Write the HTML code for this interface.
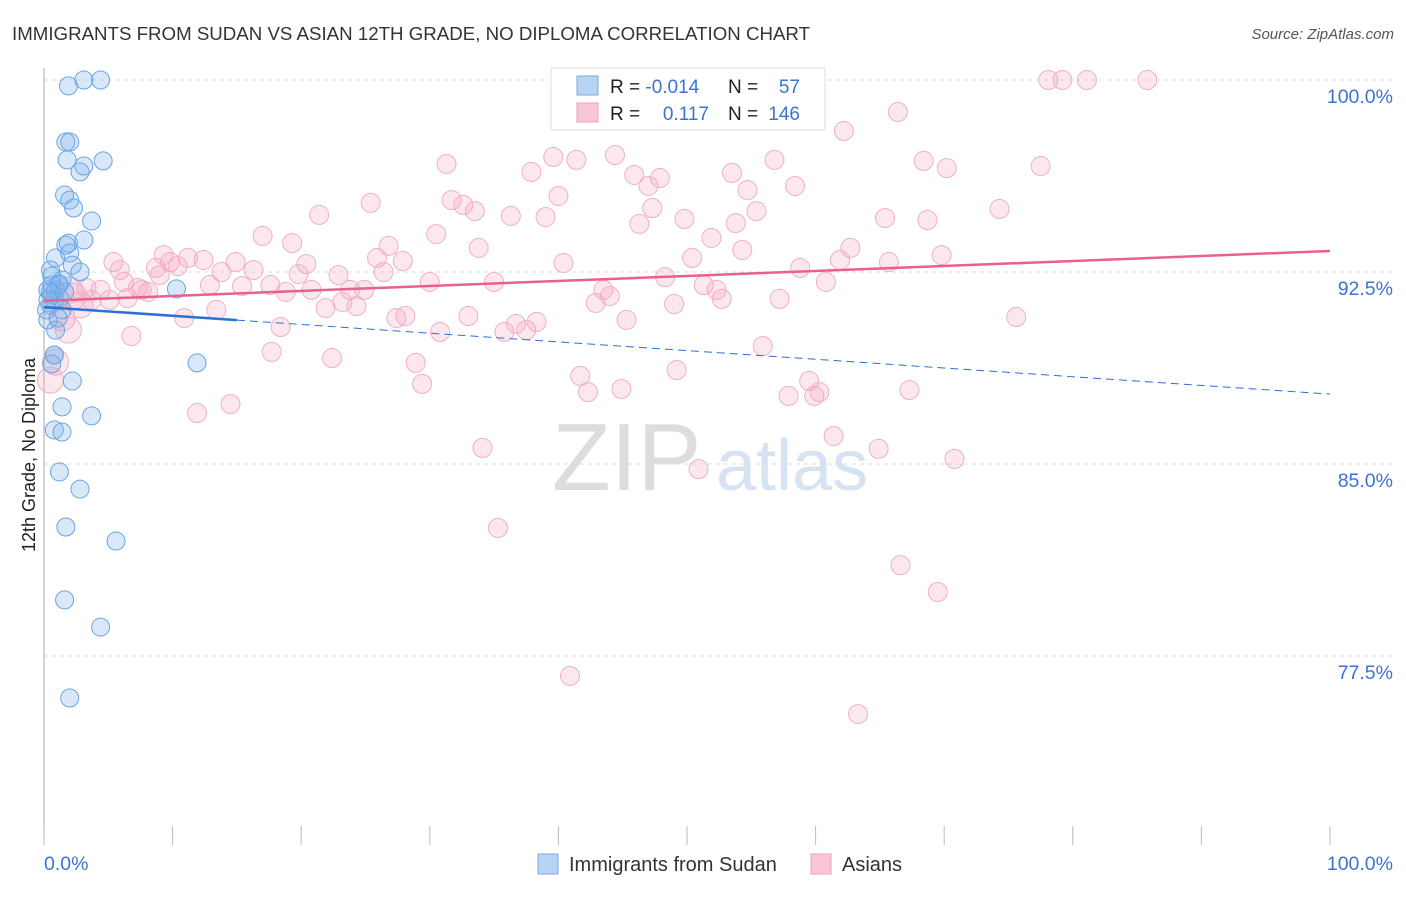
<!DOCTYPE html>
<html><head><meta charset="utf-8"><style>
body{margin:0;background:#fff;font-family:"Liberation Sans",sans-serif}
svg text{font-family:"Liberation Sans",sans-serif}
</style></head><body>
<svg width="1406" height="892" viewBox="0 0 1406 892">
<text x="12" y="40" font-size="18.5" fill="#333" textLength="798" lengthAdjust="spacingAndGlyphs">IMMIGRANTS FROM SUDAN VS ASIAN 12TH GRADE, NO DIPLOMA CORRELATION CHART</text>
<text x="1394" y="39" font-size="15" fill="#555" text-anchor="end" font-style="italic">Source: ZipAtlas.com</text>
<g>
<text x="552" y="490" font-size="96" fill="#ddd" font-family="Liberation Serif">ZIP</text>
<text x="716" y="490" font-size="72" fill="#d5e3f3">atlas</text>
</g>
<g id="grid"></g>
<g id="axes"></g>
<g id="pts"></g>
<g id="trends"></g>
<text transform="translate(35,455) rotate(-90)" font-size="18" fill="#222" text-anchor="middle">12th Grade, No Diploma</text>
<g>
<rect x="551" y="68" width="274" height="62" fill="#fff" stroke="#ddd"/>
<rect x="577" y="76" width="21" height="19" fill="#b8d4f4" stroke="#7aaae6"/>
<rect x="577" y="103" width="21" height="19" fill="#f9c6d6" stroke="#eca0ba"/>
<text x="610" y="93" font-size="19" fill="#222">R = <tspan fill="#3a74d0">-0.014</tspan></text>
<text x="728" y="93" font-size="19" fill="#222">N = </text><text x="800" y="93" font-size="19" fill="#3a74d0" text-anchor="end">57</text>
<text x="610" y="120" font-size="19" fill="#222">R = </text><text x="709" y="120" font-size="19" fill="#3a74d0" text-anchor="end">0.117</text>
<text x="728" y="120" font-size="19" fill="#222">N = </text><text x="800" y="120" font-size="19" fill="#3a74d0" text-anchor="end">146</text>
</g>
<g>
<rect x="538" y="854" width="20" height="20" fill="#b8d4f4" stroke="#7aaae6"/>
<text x="569" y="871" font-size="20" fill="#333">Immigrants from Sudan</text>
<rect x="811" y="854" width="20" height="20" fill="#f9c6d6" stroke="#eca0ba"/>
<text x="842" y="871" font-size="20" fill="#333">Asians</text>
</g>
</svg>
<script>
const yTicks=[100,92.5,85,77.5];
const yTickLabels=["100.0%","92.5%","85.0%","77.5%"];
const xTickLabels=["0.0%","100.0%"];
const sudanX=[1.9,3.1,4.4,1.7,2.0,1.8,2.8,3.1,4.6,1.6,2.0,2.3,3.7,1.7,1.9,3.1,0.9,2.0,2.2,2.8,1.4,0.6,1.1,0.3,0.6,1.2,0.5,1.4,0.3,0.9,0.8,0.6,2.2,1.4,3.7,0.8,1.4,1.2,2.8,1.7,5.6,1.6,4.4,2.0,10.3,11.9,0.3,0.9,0.2,0.6,1.2,0.8,0.5,1.1,0.8,0.5,1.6];
const sudanY=[99.77,100,100,97.58,97.58,96.88,96.41,96.64,96.84,95.51,95.31,95.0,94.49,93.55,93.63,93.75,93.05,93.24,92.77,92.5,92.19,92.34,91.99,91.8,91.6,91.48,91.21,91.02,90.63,90.23,89.26,88.91,88.24,87.23,86.88,86.33,86.25,84.69,84.02,82.54,81.99,79.69,78.63,75.86,91.84,88.95,91.41,91.8,91.02,91.99,92.03,91.41,92.58,90.7,89.26,91.72,91.72];
const asianX=[78.1,79.2,81.1,85.8,66.4,58.5,62.2,39.6,41.4,44.4,31.3,37.9,45.9,47.9,53.5,56.8,68.4,70.2,77.5,40.0,47.0,54.7,58.4,25.4,31.7,32.6,33.5,36.3,39.0,47.3,46.3,49.8,53.8,55.4,65.4,68.7,74.3,21.4,17.0,19.3,30.5,33.8,26.8,51.9,54.3,62.7,69.8,40.4,50.4,25.9,27.9,20.4,14.9,16.3,12.4,11.2,9.3,9.8,10.4,8.7,5.4,5.9,6.2,7.3,8.1,9.0,12.9,13.8,15.4,17.6,18.8,19.8,20.8,22.9,23.8,24.9,26.4,30.0,35.0,48.3,51.3,58.8,61.9,65.7,60.8,52.3,52.7,57.2,43.5,44.0,42.9,49.0,23.2,24.3,21.9,28.1,27.4,33.0,30.8,35.8,36.7,37.5,38.3,45.3,75.6,10.9,13.4,18.4,6.8,1.4,1.9,17.7,22.4,28.9,29.4,41.7,42.3,44.9,49.2,55.9,59.5,57.9,59.9,60.3,67.3,61.4,64.9,70.8,34.1,50.9,35.3,66.6,69.5,40.9,63.3,11.9,14.5,4.4,3.7,2.8,2.3,5.1,0.9,0.5,2.0,3.3,6.5,7.6];
const asianY=[100,100,100,100,98.75,98.55,98.01,96.99,96.88,97.07,96.72,96.41,96.29,96.17,96.37,96.88,96.84,96.56,96.64,95.47,95.86,95.7,95.86,95.2,95.31,95.12,94.88,94.69,94.65,95.0,94.38,94.57,94.41,94.88,94.61,94.53,94.96,94.73,93.91,93.63,93.98,93.44,93.52,93.83,93.36,93.44,93.16,92.85,93.05,93.05,92.93,92.81,92.89,92.58,92.97,93.05,93.16,92.89,92.73,92.66,92.89,92.58,92.11,91.88,91.72,92.38,91.99,92.5,91.95,91.99,91.72,92.42,91.8,92.38,91.8,91.8,92.5,92.11,92.11,92.3,91.99,92.66,92.97,92.89,92.11,91.8,91.45,91.45,91.8,91.56,91.29,91.25,91.33,91.17,91.09,90.78,90.7,90.78,90.16,90.16,90.47,90.23,90.55,90.63,90.74,90.7,91.02,90.35,90.0,90.7,90.23,89.38,89.14,88.95,88.13,88.44,87.81,87.93,88.67,89.61,88.24,87.66,87.66,87.81,87.89,86.09,85.59,85.2,85.63,84.8,82.5,81.05,80.0,76.72,75.23,86.99,87.34,91.8,91.41,91.21,91.56,91.41,88.98,88.28,91.8,91.88,91.48,91.8];
const sudanTrend=[91.13,87.73];
const asianTrend=[91.37,93.32];
const NS="http://www.w3.org/2000/svg";
const X0=44,X1=1330,Y0=80,PXPER=25.6;
function xs(v){return X0+(X1-X0)*v/100;}
function ys(v){return Y0+(100-v)*PXPER;}
function mk(tag,attrs,parent){const e=document.createElementNS(NS,tag);for(const k in attrs)e.setAttribute(k,attrs[k]);parent.appendChild(e);return e;}
const grid=document.getElementById('grid'),axes=document.getElementById('axes'),pts=document.getElementById('pts'),tr=document.getElementById('trends');
yTicks.forEach((t,i)=>{
 const l=mk('line',{x1:X0,x2:1393,y1:ys(t),y2:ys(t),stroke:'#ddd','stroke-dasharray':'4,4'},grid);
 
 
 const tx=mk('text',{x:1393,y:ys(t)+23,'font-size':19.5,fill:'#3a74d0','text-anchor':'end'},axes);
 tx.textContent=yTickLabels[i];
 
 
});
const ax=mk('line',{x1:X0,x2:X0,y1:68,y2:845,stroke:'#aaa'},axes);


for(let i=0;i<=10;i++){
 const t=mk('line',{x1:xs(i*10),x2:xs(i*10),y1:826,y2:845,stroke:'#bbb'},axes);
 
 
}
[[0,'start',44],[100,'end',1393]].forEach((d,i)=>{
 const tx=mk('text',{x:d[2],y:870,'font-size':19.5,fill:'#3a74d0','text-anchor':d[1]},axes);
 tx.textContent=xTickLabels[i];
 
 
});
asianX.forEach((v,i)=>{
 const r=v<3?13:9.5;
 const c=mk('circle',{cx:xs(v),cy:ys(asianY[i]),r:r,fill:'rgba(244,160,188,0.25)',stroke:'#f0b0c6','stroke-width':1},pts);
 
 
});
sudanX.forEach((v,i)=>{
 const c=mk('circle',{cx:xs(v),cy:ys(sudanY[i]),r:9,fill:'rgba(130,178,236,0.3)',stroke:'#6aa4e4','stroke-width':1},pts);
 
 
});
function lerp(a,t){return a[0]+(a[1]-a[0])*t/100;}
let l1=mk('line',{x1:xs(0),y1:ys(lerp(sudanTrend,0)),x2:xs(15),y2:ys(lerp(sudanTrend,15)),stroke:'#2d6fd4','stroke-width':2.5},tr);


let l2=mk('line',{x1:xs(15),y1:ys(lerp(sudanTrend,15)),x2:xs(100),y2:ys(lerp(sudanTrend,100)),stroke:'#2d6fd4','stroke-width':1,'stroke-dasharray':'8,5'},tr);


let l3=mk('line',{x1:xs(0),y1:ys(lerp(asianTrend,0)),x2:xs(100),y2:ys(lerp(asianTrend,100)),stroke:'#e8608e','stroke-width':2.5},tr);


</script>
</body></html>
